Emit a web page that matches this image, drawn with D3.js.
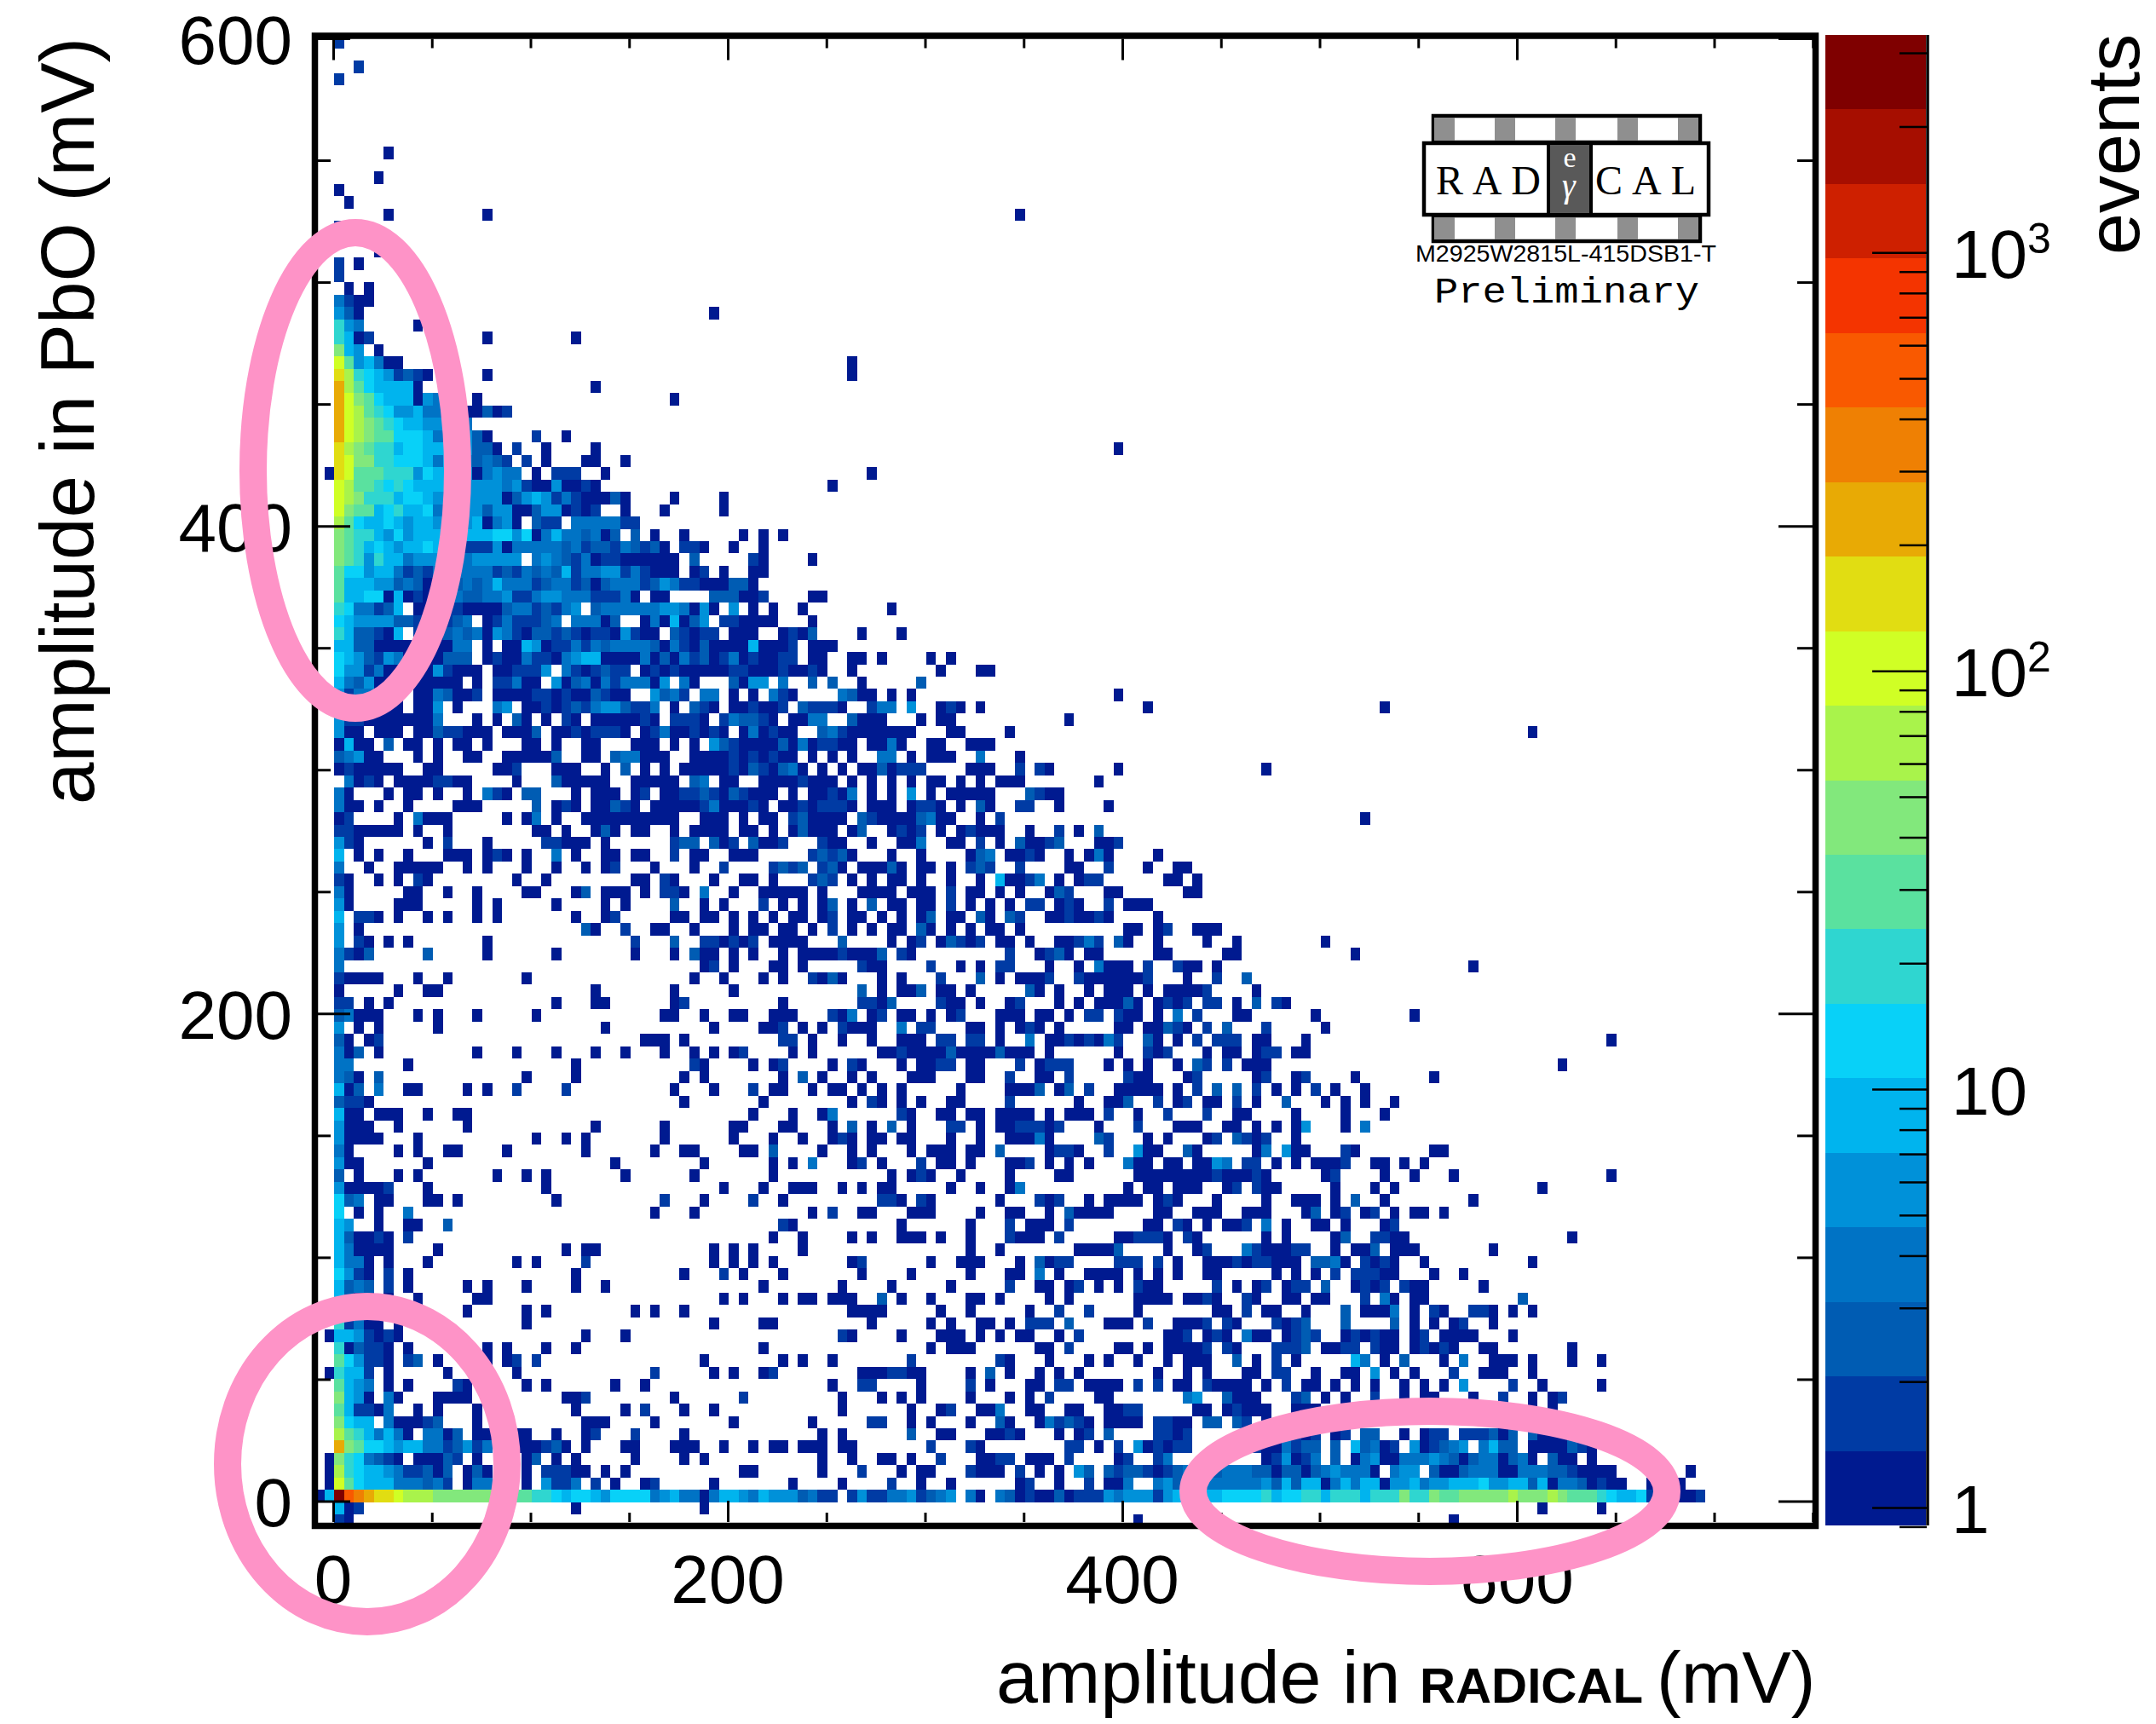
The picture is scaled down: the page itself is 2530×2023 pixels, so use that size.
<!DOCTYPE html>
<html>
<head>
<meta charset="utf-8">
<script src="https://cdn.jsdelivr.net/npm/d3@7"></script>
<style>
  html, body { margin: 0; background: #fff; }
  text { font-family: "Liberation Sans", sans-serif; fill: #000; }
</style>
</head>
<body>
<svg id="chart" width="2530" height="2023"></svg>
<script>
// band colours of the palette, lowest band first
const bandColors = ["#001a90","#003ba4","#005cb3","#0073c5","#0091d9","#00b4ee","#08d1f8","#2fd6d0","#5ae19f","#82e87c",
  "#a9f34b","#d0ff25","#e1dd12","#e8aa05","#ef8003","#f95900","#f43400","#ce2000","#a60e00","#7f0000"];

// events per cell for each level character used in the rows below
const levelChars = "0123456789abcdefghij";
const levelEvents = [1,2,3,4,6,9,13,20,30,45,67,100,150,230,345,520,780,1180,1780,2680];

const xTicks = [0,200,400,600];
const yTicks = [0,200,400,600];
const xMinor = [50,100,150,250,300,350,450,500,550,650,700,750];
const yMinor = [50,100,150,250,300,350,450,500,550];
const zMajor = [1,10,100,1000];
const zMinor = [0.9,2,3,4,5,6,7,8,9,20,30,40,50,60,70,80,90,200,300,400,500,600,700,800,900,2000,3000];

const topRow = 118;
// one string per row of the histogram, top row first.
// first two chars = the two bins left of zero, then bins from 0 upward, "." = empty
const rows = [
".. 1",
"..",
".. ..1",
".. 1",
"..","..","..","..","..",
".. .....0",
"..",
".. ....0",
".. 0",
".. .0",
".. .....0.... .....0.... .......... .......... .......... .......... .........0",
".. 1.0",
"..",
".. ....0",
".. 1.0",
".. 1",
".. .0.0",
".. 3100",
".. 420....... .......... .......... ........0.",
".. 743.....0.",
".. 7501...... .....0.... ....0",
".. 954.0",
".. b845300... .......... .......... .......... .......... ..0",
".. ca76541210 .....0.... .......... .......... .......... ..0",
".. da8655550. .......... ......0...",
".. db98655504 3...0..... .......... ....0",
".. dba8764453 33300201..",
".. dba9876554 4433",
".. dba9886665 355420.... 1..0",
".. ca98775665 5554220.1. .0....0... .......... .......... .......... .......... .........0",
".. cb99776665 35532321.1 .0...00..0",
".0 cb88877746 554403433. 0.111..0.. .......... .......... ....0",
".. ba88767655 5544444341 0040010... .......... .......... 0",
".. ba97775665 4444444024 5413100020 ....0....0",
".. b988567556 3344424400 2440101..0 ...0.....0",
".. a865565455 444450340. 211.333331 1",
".. 9877546455 5555556646 035332302. 2.0..0.... .0.0.0",
".. 9875654556 5541114033 3332312213 2120.110.. 0..0",
".. 9874755344 444344444. 3432130110 00000.2... ..10....0",
".. 8664553121 3333331213 2325133441 31000.01.0 ..00",
".. 8555442320 3323235333 1233120233 3124311000 220",
".. 8556605010 1332233411 3443331113 0.00....22 2001....00",
".. 7633125.00 1110000233 12134.2333 333443040. 4.0.0..0.. ......0",
".. 6544442210 0123.01311 123.33302. .0305024.1 10000...0",
".. 7522105.10 1232304310 2212101104 100.21011. 000..0102. ...0...0",
".. 5522000003 0033.0.005 4011313233 3320310200 0050001.00 0",
".. 6542143000 0222.01003 1103455000 0302031201 3010011.00 ..00.0.... 0.0",
".. 6441300000 41000.0011 14.3101211 .010100000 1100010010 ..0....... .0...00",
".. 5324000000 000.0.1130 0.40230313 3304.30... 2044.3..2. 2..0.....2",
".. 4133000.00 32001.0000 1101002100 ..4231.33. 0.0.310... .3200.0.0. .......... .........0",
".. 4222000.00 4.0...34.0 0101213442 113.0.210. 001001.211 10..133.4. .010.0.... .......... ..0....... .......... ......0",
".. 4110000000 3...0.0.20 .0.10.0000 010.1110.1 32210.0033 ..2000...0 .00....... ....0",
".. 400.000.00 211000.000 2.00101110 .013001010 .030100..2 310000000. ..00....0. .......... .......... .......... .......... .......... .0",
".. 0500.2.00. 0.00.0...0 0.0..00... 000.0.0.42 1000020301 100.0030.. 00..000",
".. 23400...0. 0..00..000 002..00.23 3000..0000 1010100.0. 0.0..33.0. 000..3...0",
".. 0100000..0 0.....001. ..000..0.2 .0.0.00000 10210230.0 .0.0020111 ....000..1 .10......0 .......... ....0",
".. .3010.0000 1100....0. ..200000.. 00000.23.0 0..0000100 0.0.0.0.0. 00.0.0.000 .......0",
".. 30...0.00. 0..0.310.2 2...0.000. 01.0011210 21000.0.00 103.0.0.4. 0.00000... 2100",
".. 300.0..0.. ..000..... 2.010.0021 0.00000130 0010.00101 110.000.01 10.0.20..1 1..0....0.",
".. 01....0.30 00.....0.0 3.0..00000 00000..000 .0.00.1200 00.2100002 300..0.1.. .......... .......... .......... ....0",
".. 1100000.0. .0........ 00.0..020. 00..0.0000 .00.0.0200 0.02..0101 .0.01000.. 0..1.0.2",
".. 410......0 .1...0.... .11000.0.. ....122.20 1.2001...1 00..0..003 ..00.1.0.2 0012...001",
".. 5.0.0..0.. .000.010.0 ..3.0..00. 00..1.00.. 000.....12 120...0..0 ....023.00 10..0.030. ...0",
".. 3..0..0000 0..0.0...0 ..0..0.01. ..0...0..1 ....1212.1 20.00020.0 0.0.121..1 ....00..1. ..0..00",
".. 10..0.0.10 ........0. .0........ 00.10...0. .00.0...12 1.0.0.00.0 ..0..0.500 13.0.011.. ....00.0",
".. 30.....00. .0..0....0 0...02.000 .0.110.3.. 0..00000.0 ...0000.00 0.1.00.0.0 ..021...00 ......00",
".. 40....000. ....0.0... ..0....0.0 ....2..0.0 ...1.0.0.0 2.0.2.00.0 0.1.0.0.0. 11.010..1. 000",
".. 5.110.0..0 .0..0.0... ....0..01. ....00.00. 0.0.0.00.0 1.00.0.0.0 2.00.20.21 ..0010010. ...0",
".. 4.0....... .......... .....20..1 ..00..0... 0.00.00.0. 1.0.0.00.2 0.0.0.00.0 .......... 00.01..000",
".. 4.10.0.0.. .....0.... .......... 1...2..110 101.0000.. .2....0.01 .02101.00. 0..00131.2 0..0....0. .0........ 0",
".. 3102.....2 .....0.... ..0....... 0...0.200. 0.0..0.000 010002.10. ........1. .0120.00.. ...00..... 00........ ...0",
".. 3......... .......... .......... .......01. 0...00.0.. ...100.... 1..0.0.11. ..0..0.300 0.1..100.0 .......... .......... .....0",
".. 10000...0. .0.......0 .......... ......0..0 ...0.0..10 20...0.0.. .1...2.0.0 001..10000 001...0..1 ..2",
".. 0.....0..0 0......... ......0... ....0..... 0......... ...2.0.002 .00.0..... 20.0..0.00 0.0.00001. ...0",
".. 11.0.0.... .......... ..0...00.. ....01.... .....0.... ...1102... .100.0..01 ...0.0.000 20.0101.11 .0.2.10",
".. 23000...0. 0...0..... 0......... ...00..0.. 00..000... 103.01.00. 0.01...000 .00.0.11.1 00.0.3.1.. .00......0 .........0",
".. 4.0.0..... 0......... .......0.. ........0. ...001.0.0 .1000..3.1 1...00.0.0 10.0.....0 0.00210.1. 2...1..... 0",
".. 20.01..... .......... .......... .000.0.... .....11.0. .0..0..000 .11.11.0.. 3.00101031 ..20.0.1.1 11.00...0. .......... .......... .........0",
".. 302.0..... ....0...0. ..0...0..0 ...0..0.0. 01....0.0. .....00100 0020000200 0.0......0 ..101...0. 00.011.00.",
".. 33.....0.. .......... ....0..... ......10.. ..0.01.... 0.10...0.0 011.00...1 .0111...0. 0.0..0.21. 1.000..... .......... .......... ....0",
".. 320.2..... .........0 ....0..... .....0.0.. .....0.2.0 ..0.0...00 0...00..1. .00.1..... 100...01.. ...01..01. ...0.......0",
".. 502.3..00. ...0.0..1. ...1...... ....0...0. ..1.00..0. 00.0.0.0.. ...0....00 02.02.1..0 0000.0.1.2 .2.1.0.0.1 .0..0",
".. 2110...... .......... .......... .....0.... ...0...... ..0.10.0.0 ..00....1. .....0..00 2..1.01.00 .1.0..2... 0.0.0..0",
".. 500.000..0 ..00...... .......... .......... ..0...0..0 3......10. .00.00.000 0.0.000.1. .0..1...1. .00....0.. ..0...0",
".. 4000..0... ...0...... ......0... ...0...... 00...00... 0.2.0.2.0. ..11.0.001 1101...0.. .1...000.. 00.0.0.04. ..0.3",
".. 40000...0. .......... 0..0.0.... ...0...... 0...0..0.. 010.00.00. ..0..0..00 030....21. ..0.0...01 .2101..0..",
".. 30....0.0. .00....0.. .....0.... ..0..00... .00.2....0 ..0.0...0. 000.00.2.. ..0110..1. .400..20.. ...03.400. ..10...... .00",
".. 400......0 .......... ........0. .......0.. ....0.0.3. ..01.0...1 .00.0...00 1.0.0.0... 300.00.004 3.11.0.0.0 001..00.0. 0",
".. 2.0...0.0. ......0..0 .0.......0 ......0... ....0..... ......0.01 0..0....0. ...00..... .000000001 00010..... 01....0..0 ...0...... .........0",
".. 400001...0 .......... .0........ .........0 ...0..000. .0.0.00... ..0..0..03 .......... 0.00.000.. 01.100.... .0...0.0.. .......... ..0",
".. 623.00...0 0.0....... ..0....... ...1...0.. ..1..0.... .....110.1 0......0.. .101..0.00 00.010...0 ....0..000 .0.2..0... .....0",
".. 6.0.0..3.. .......... .......... ..0...0... ........0. 1..00...00 0....0..00 ..0.20000. ...00..000 ..000...02 .01.01.0.0 0.0",
".. 54..0..00. .2........ .......... .......... .....10... .......0.. ....0...1. 000.1..... ..00.10.0. 001.3.0..0 0.0...01",
".. 520010.1.. .......... .......... .......... ....0..0.. ..0.0..000 .0..0...10 00.1.....0 01110.10.. ....0.0... .02..1100. .......... .....0",
".. 530000.... 0......... ...0.00... ........0. 0.0....0.. .......... ....0..0.. .....00002 ....0..01. ..3100011. .0.002.000 .......0",
".. 5330.0...0 ........0. 0....1.... ........0. 0.0.0..... ..01...... 0..000...0 .2011....1 11.1.0..00 01011000.2 230.1010.. 0......... .0",
".. 6410.1.0.. .......... ....0..... .....0...1 .0...0.... ...0....0. ....0...00 .3.0..0000 .0.0.0..00 .....0.0.0 .1.11100.. .0..0",
".. 5232.1.0.. ...0.0...0 ....0..0.. .......... ...0...... .0....0... ..0.....1. .00.01.0.0 .100.....1 .0.01.011. 2..0101.10 0.....0",
".. 5200.0..0. ....00.... .......... .........0 .0...0.00. 000..2.0.. 0...00.0.. ..0.0..... .0000.0010 ..10..00.0 0...1.30.0 0......... 2",
".. 7100.0.... ...0.....0 .0........ 0.0..0.... .......... ..0000.... .0..0..... 0..1..1... .0.......0 0.1.00..0. ..2.0003.0 .10..110.0 .0",
".. 71300.0... .........0 .......... ........0. ...00..... ....0..... 0.0..00.0. 111.2...00 0.1..0001. 10...1012. ..2....2.0 .0.01..0",
".0 5541010... .......... .....0...0 .......... .......... .10....0.. .000.0.0.0 0..0.1.... ....001.01 0.300.0121 ..010100.0 1.0000...0",
".. 702110.0.. .....0.0.. .0..0..... .......... ...0...... .......... 0.000..... .00.1....0 0.0.00001. 10...1112. 0011.100.0 1010..00.. .....0",
".. 864110.12. 0....0.01. 1......... .......0.. .....0.0.. 0.......1. .......10. ..0...0.0. .0..0.000. .2.0.1.0.. ...53.0.2. ..0.3..000 .0...0..0",
".0 7551.0.... .0......0. .......... ..1.....0. 0..01..... ...0001100 ....0.2.0. .0.0.0.... ...0..0.0. ..00.11..0 ..00.4.0.0 ...1..000. .0",
".. 8543.0.0.. ..10.....0 .0......0. .0........ .......... 0..11....0 ....1.0... 00.11.0000 .1.1.00.10 000.0.1.00 .0.0.0..0. 0.0.4....1 ..0.....0",
".. 9540.30... 0000...... ...001.... ....0..... .1........ .0...0.0.0 ....0...0. 0.1....00. ......34.. 2000...12. 0.0..1..0. 00...0..1. .0.01",
".. 851103..0. 0...0..... ....0....0 .1...0..0. .......... .0......0. .01..003.. 00..00..00 11.....00. 01000..000 ..00.00..0 0.0.0..0.. .0.0",
".. 9655.30001 2...0..... .....000.. ..0....... 0.......0. ....11..0. 0...0..20. .031210.00 00.1100.22 .21.0",
".. a8753530.3 302.00..00 ..0..01... 1....0.... .........0 .0......2. .00...0010 ...0.01.2. ...1101... .....01101 .01.22..0. 011.111202 .2000",
".. d986654553 312413..00 0120.0...0 0...000..0 ..0.00.000 .00....... 1...10.... ....11.0.1 .401011... .011003122 .2.52301.4 01234.3522 .0000210",
".0 9763210.00 021.0....0 2.0.0..... 0....0.0.. .........0 ..0..00.0. .1...0011. 000.1....0 1..13..... ....014013 .2.0340033 3432023302 30.200.0",
".0 a765543112 02.020...0 .11100.0.0 .......... .00......0 ...1...0.0 0...1000.1 .0.0.42.21 2210123..2 3332202202 343330.344 .200233300 3332210000 .......0",
".0 b865553332 31.033...0 .4113.1.0. .01.....0. ......0... .0....1..0 ..0......0 1..0..1.00 3..3423333 3333425255 0353550445 3445556445 5250332010 0..0..0",
"05 jfedccbaaa 9999999988 7765665466 6634533035 5435444231 1.14113341 234.30.320 1002011143 4441455555 6666756677 5777577797 7988999 99a 999a988876 556100001",
".. 501....... .......... ....0..... .......0.. .......... .......... .......... .......... .......... .......... .......... .......... ..0.....0",
".. 10........ .......... .......... .......... .......... .......... .......... .......... .0........ .......... .......... ...0"
];

// expand the strings into one record per filled cell
const cells = [];
rows.forEach((r, i) => {
  const s = r.replace(/ /g, "");
  for (let c = 0; c < s.length; c++) {
    const lvl = levelChars.indexOf(s[c]);
    if (lvl < 0) continue;
    cells.push({ col: c - 2, row: topRow - i, events: levelEvents[lvl] });
  }
});

const svg = d3.select("#chart");

// axis ranges of the frame
const x = d3.scaleLinear().domain([-9.29, 751.4]).range([369.5, 2130.5]);
const y = d3.scaleLinear().domain([-10, 600]).range([1790.1, 45]);
const xBin = 5, xBin0 = 0.56;
const yBin = 5.054, yBin0 = -0.44;

const zLow = 0.906, zHigh = 3311;
const color = d3.scaleQuantize().domain([Math.log10(zLow), Math.log10(zHigh)]).range(bandColors);
const zScale = d3.scaleLog().domain([zLow, zHigh]).range([1790, 41]);

// histogram cells
svg.append("clipPath").attr("id", "plotArea").append("rect")
  .attr("x", 369.5).attr("y", 42).attr("width", 1761).attr("height", 1748.5);
svg.append("g").attr("clip-path", "url(#plotArea)").attr("shape-rendering", "crispEdges")
  .selectAll("rect").data(cells).join("rect")
  .attr("x", d => x(xBin0 + d.col * xBin))
  .attr("width", x(xBin) - x(0))
  .attr("y", d => y(yBin0 + (d.row + 1) * yBin))
  .attr("height", y(0) - y(yBin))
  .attr("fill", d => color(Math.log10(d.events)));

// ticks on all four sides, long ones for labelled values
function ticks(axis, values, len, tx, ty) {
  const g = svg.append("g").attr("transform", `translate(${tx},${ty})`)
    .call(axis.tickValues(values).tickSize(len).tickFormat(""));
  g.select(".domain").remove();
  g.selectAll("line").attr("stroke", "#000").attr("stroke-width", 3);
}
ticks(d3.axisTop(x), xTicks, 25, 0, 1786);
ticks(d3.axisTop(x), xMinor, 11, 0, 1786);
ticks(d3.axisBottom(x), xTicks, 25, 0, 45.5);
ticks(d3.axisBottom(x), xMinor, 11, 0, 45.5);
ticks(d3.axisRight(y), yTicks, 38, 373, 0);
ticks(d3.axisRight(y), yMinor, 15, 373, 0);
ticks(d3.axisLeft(y), yTicks, 40, 2127, 0);
ticks(d3.axisLeft(y), yMinor, 18, 2127, 0);

// frame
svg.append("rect").attr("x", 369.5).attr("y", 42).attr("width", 1761).attr("height", 1748.5)
  .attr("fill", "none").attr("stroke", "#000").attr("stroke-width", 7.5);

// tick labels
svg.append("g").selectAll("text").data(xTicks).join("text")
  .attr("x", d => x(d)).attr("y", 1881).attr("text-anchor", "middle")
  .attr("font-size", 80).text(d => d);
svg.append("g").selectAll("text").data(yTicks).join("text")
  .attr("x", 343).attr("y", d => y(d) + 30).attr("text-anchor", "end")
  .attr("font-size", 80).text(d => d);

// axis titles
svg.append("text").attr("transform", "translate(110,944) rotate(-90)")
  .attr("font-size", 89).text("amplitude in PbO (mV)");
svg.append("text").attr("x", 1169).attr("y", 1998).attr("font-size", 88).text("amplitude in");
svg.append("text").attr("x", 1666).attr("y", 1998).attr("font-size", 58).attr("font-weight", "bold")
  .attr("textLength", 262).attr("lengthAdjust", "spacingAndGlyphs").text("RADICAL");
svg.append("text").attr("x", 1944).attr("y", 1998).attr("font-size", 86).text("(mV)");
svg.append("text").attr("transform", "translate(2510,299) rotate(-90)")
  .attr("font-size", 88).text("events");

// colour bar
const bandCount = bandColors.length;
svg.append("g").attr("shape-rendering", "crispEdges").selectAll("rect").data(bandColors).join("rect")
  .attr("x", 2142).attr("width", 118)
  .attr("y", d => zScale(Math.pow(10, color.invertExtent(d)[1])))
  .attr("height", (zScale.range()[0] - zScale.range()[1]) / bandCount)
  .attr("fill", d => d);
const zMinorAxis = svg.append("g").attr("transform", "translate(2261,0)")
  .call(d3.axisLeft(zScale).tickValues(zMinor).tickSize(32).tickFormat(""));
zMinorAxis.select(".domain").remove();
zMinorAxis.selectAll("line").attr("stroke", "#000").attr("stroke-width", 2.5);
const zMajorAxis = svg.append("g").attr("transform", "translate(2261,0)")
  .call(d3.axisLeft(zScale).tickValues(zMajor).tickSize(64).tickFormat(""));
zMajorAxis.select(".domain").remove();
zMajorAxis.selectAll("line").attr("stroke", "#000").attr("stroke-width", 2.5);
svg.append("line").attr("x1", 2262).attr("x2", 2262).attr("y1", 41).attr("y2", 1790)
  .attr("stroke", "#000").attr("stroke-width", 3.5);

// colour bar labels: 1, 10, 10^2, 10^3
const zLabel = svg.append("g").selectAll("g").data(zMajor).join("g");
zLabel.append("text").attr("x", 2290).attr("y", d => zScale(d) + 30).attr("font-size", 80)
  .text(d => d === 1 ? "1" : "10");
zLabel.filter(d => d > 10).append("text").attr("x", 2379).attr("y", d => zScale(d) + 1).attr("font-size", 50)
  .text(d => Math.log10(d));

// detector logo
const logo = svg.append("g");
const stripeX = [1683, 1754, 1825, 1898, 1969];
[[136, 31], [253, 30]].forEach(([top, h]) => {
  logo.append("rect").attr("x", 1682).attr("y", top).attr("width", 313).attr("height", h)
    .attr("fill", "#fff").attr("stroke", "#000").attr("stroke-width", 4.5);
  logo.selectAll(null).data(stripeX).join("rect")
    .attr("x", d => d).attr("y", top + 2).attr("width", 24).attr("height", h - 4).attr("fill", "#8f8f8f");
});
logo.append("rect").attr("x", 1671).attr("y", 168).attr("width", 334).attr("height", 84)
  .attr("fill", "#fff").attr("stroke", "#000").attr("stroke-width", 4.5);
logo.append("rect").attr("x", 1817).attr("y", 168).attr("width", 50).attr("height", 84)
  .attr("fill", "#595959").attr("stroke", "#000").attr("stroke-width", 4);
logo.append("text").attr("x", 1685).attr("y", 228).attr("font-size", 48)
  .attr("textLength", 123).style("font-family", "'Liberation Serif', serif").text("RAD");
logo.append("text").attr("x", 1872).attr("y", 228).attr("font-size", 48)
  .attr("textLength", 118).style("font-family", "'Liberation Serif', serif").text("CAL");
logo.append("text").attr("x", 1842).attr("y", 196).attr("text-anchor", "middle").attr("font-size", 34)
  .style("font-family", "'Liberation Serif', serif").style("fill", "#fff").text("e");
logo.append("text").attr("x", 1841).attr("y", 231).attr("text-anchor", "middle").attr("font-size", 40)
  .style("font-family", "'Liberation Serif', serif").style("font-style", "italic").style("fill", "#fff").text("γ");
logo.append("text").attr("x", 1661).attr("y", 307).attr("font-size", 27)
  .attr("textLength", 353).attr("lengthAdjust", "spacingAndGlyphs").text("M2925W2815L-415DSB1-T");
logo.append("text").attr("x", 1683).attr("y", 355).attr("font-size", 42)
  .attr("textLength", 311).attr("lengthAdjust", "spacingAndGlyphs")
  .style("font-family", "'Liberation Mono', monospace").text("Preliminary");

// hand drawn highlight rings on top of everything
const ringCx = [417, 431, 1678];
const ringCy = [552, 1718, 1750];
const ringRx = [120, 164, 278];
const ringRy = [279, 185, 94];
svg.append("g").selectAll("ellipse").data(ringCx).join("ellipse")
  .attr("cx", d => d)
  .attr("cy", (d, i) => ringCy[i])
  .attr("rx", (d, i) => ringRx[i])
  .attr("ry", (d, i) => ringRy[i])
  .attr("fill", "none").attr("stroke", "#fe93c7").attr("stroke-width", 32);
</script>
</body>
</html>
